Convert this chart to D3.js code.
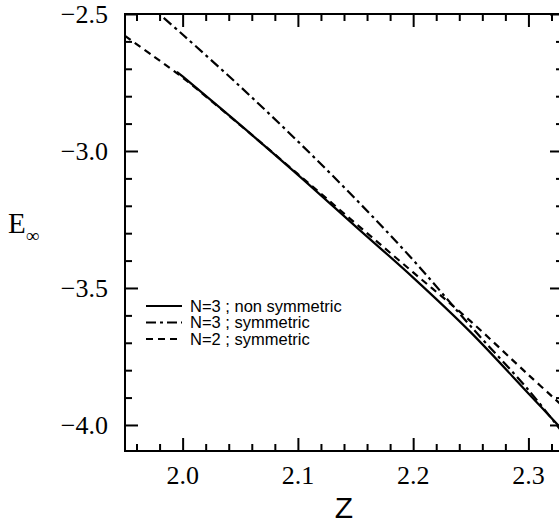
<!DOCTYPE html>
<html>
<head>
<meta charset="utf-8">
<script src="https://cdn.jsdelivr.net/npm/d3@7"></script>
<style>
  body { margin: 0; background: #fff; }
  svg { display: block; }
  .tick-label { font-family: "Liberation Serif", "Times New Roman", serif; font-size: 26px; fill: #000; }
  .legend text { font-family: "Liberation Sans", Arial, sans-serif; font-size: 16.5px; fill: #000; }
</style>
</head>
<body>
<div id="chart"></div>
<script>
// curves
var zN3Non = [1.995, 2.00, 2.05, 2.10, 2.15, 2.20, 2.25, 2.30, 2.33];
var eN3Non = [-2.711, -2.728, -2.905, -3.087, -3.275, -3.462, -3.662, -3.885, -4.02];

var zN3Sym = [1.97, 2.00, 2.05, 2.10, 2.15, 2.20, 2.25, 2.30, 2.33];
var eN3Sym = [-2.464, -2.575, -2.765, -2.965, -3.175, -3.398, -3.640, -3.872, -4.03];

var zN2Sym = [1.95, 1.975, 2.00, 2.05, 2.10, 2.15, 2.20, 2.25, 2.30, 2.33];
var eN2Sym = [-2.580, -2.655, -2.732, -2.906, -3.084, -3.264, -3.443, -3.622, -3.817, -3.932];

var xTicks = [2.0, 2.1, 2.2, 2.3];
var yTicks = [-2.5, -3.0, -3.5, -4.0];
var legendLabels = ["N=3 ; non symmetric", "N=3 ; symmetric", "N=2 ; symmetric"];

var W = 559, H = 525,
    pl = 125, pr = 563, pt = 14, pb = 451;

var x = d3.scaleLinear().domain([1.95, 2.33]).range([pl, pr]),
    y = d3.scaleLinear().domain([-2.5, -4.095]).range([pt, pb]);

var svg = d3.select("#chart").append("svg")
    .attr("width", W)
    .attr("height", H);

svg.append("defs").append("clipPath").attr("id", "clip")
    .append("rect")
    .attr("x", pl).attr("y", pt)
    .attr("width", pr - pl).attr("height", pb - pt);

// minor / major ticks, all pointing inward
var xMinor = d3.range(1.96, 2.331, 0.02).filter(function (v) { return Math.abs(v * 10 - Math.round(v * 10)) > 1e-6; }),
    yMinor = d3.range(-2.6, -4.1, -0.1).filter(function (v) { return Math.abs(v * 2 - Math.round(v * 2)) > 1e-6; });

function axisFrame(axis, g) {
    g.call(axis);
    g.select(".domain").remove();
    g.selectAll(".tick line").attr("stroke", "#000").attr("stroke-width", 2);
    g.selectAll(".tick text").remove();
}

[[d3.axisTop, pb], [d3.axisBottom, pt]].forEach(function (a) {
    svg.append("g").attr("transform", "translate(0," + a[1] + ")")
        .call(function (g) { axisFrame(a[0](x).tickValues(xTicks).tickSize(13), g); });
    svg.append("g").attr("transform", "translate(0," + a[1] + ")")
        .call(function (g) { axisFrame(a[0](x).tickValues(xMinor).tickSize(7), g); });
});
[[d3.axisRight, pl], [d3.axisLeft, pr]].forEach(function (a) {
    svg.append("g").attr("transform", "translate(" + a[1] + ",0)")
        .call(function (g) { axisFrame(a[0](y).tickValues(yTicks).tickSize(13), g); });
    svg.append("g").attr("transform", "translate(" + a[1] + ",0)")
        .call(function (g) { axisFrame(a[0](y).tickValues(yMinor).tickSize(7), g); });
});

svg.append("rect")
    .attr("x", pl).attr("y", pt)
    .attr("width", pr - pl).attr("height", pb - pt)
    .attr("fill", "none").attr("stroke", "#000").attr("stroke-width", 2);

// tick labels
svg.selectAll(".xlab").data(xTicks).enter().append("text")
    .attr("class", "tick-label")
    .attr("x", function (d) { return x(d); })
    .attr("y", 484)
    .attr("text-anchor", "middle")
    .text(function (d) { return d.toFixed(1); });

svg.selectAll(".ylab").data(yTicks).enter().append("text")
    .attr("class", "tick-label")
    .attr("x", 108)
    .attr("y", function (d) { return y(d); })
    .attr("dy", "0.34em")
    .attr("text-anchor", "end")
    .text(function (d) { return "\u2212" + Math.abs(d).toFixed(1); });

// axis titles
svg.append("text")
    .attr("x", (pl + pr) / 2)
    .attr("y", 518)
    .attr("text-anchor", "middle")
    .style("font-family", "'Liberation Sans', Arial, sans-serif")
    .style("font-size", "30px")
    .text("Z");

var eLab = svg.append("text")
    .attr("x", 8)
    .attr("y", 233)
    .style("font-family", "'Liberation Serif', 'Times New Roman', serif")
    .style("font-size", "29px");
eLab.append("tspan").text("E");
eLab.append("tspan").attr("dy", 9).style("font-size", "19px").text("\u221e");

// curves
var series = [
    { z: zN3Non, e: eN3Non, dash: null },
    { z: zN3Sym, e: eN3Sym, dash: "10,4,3,4" },
    { z: zN2Sym, e: eN2Sym, dash: "7,5" }
];

var line = d3.line()
    .x(function (d) { return x(d[0]); })
    .y(function (d) { return y(d[1]); })
    .curve(d3.curveCatmullRom);

svg.append("g").attr("clip-path", "url(#clip)")
    .selectAll("path").data(series).enter().append("path")
    .attr("d", function (s) { return line(d3.zip(s.z, s.e)); })
    .attr("fill", "none")
    .attr("stroke", "#000")
    .attr("stroke-width", 2.2)
    .attr("stroke-dasharray", function (s) { return s.dash; });

// legend
var legend = svg.append("g").attr("class", "legend");
var rowY = [306, 322.5, 339];
legendLabels.forEach(function (lab, i) {
    legend.append("line")
        .attr("x1", 146).attr("x2", 182)
        .attr("y1", rowY[i]).attr("y2", rowY[i])
        .attr("stroke", "#000").attr("stroke-width", 2)
        .attr("stroke-dasharray", series[i].dash);
    legend.append("text")
        .attr("x", 190).attr("y", rowY[i])
        .attr("dy", "0.36em")
        .text(lab);
});
</script>
</body>
</html>
